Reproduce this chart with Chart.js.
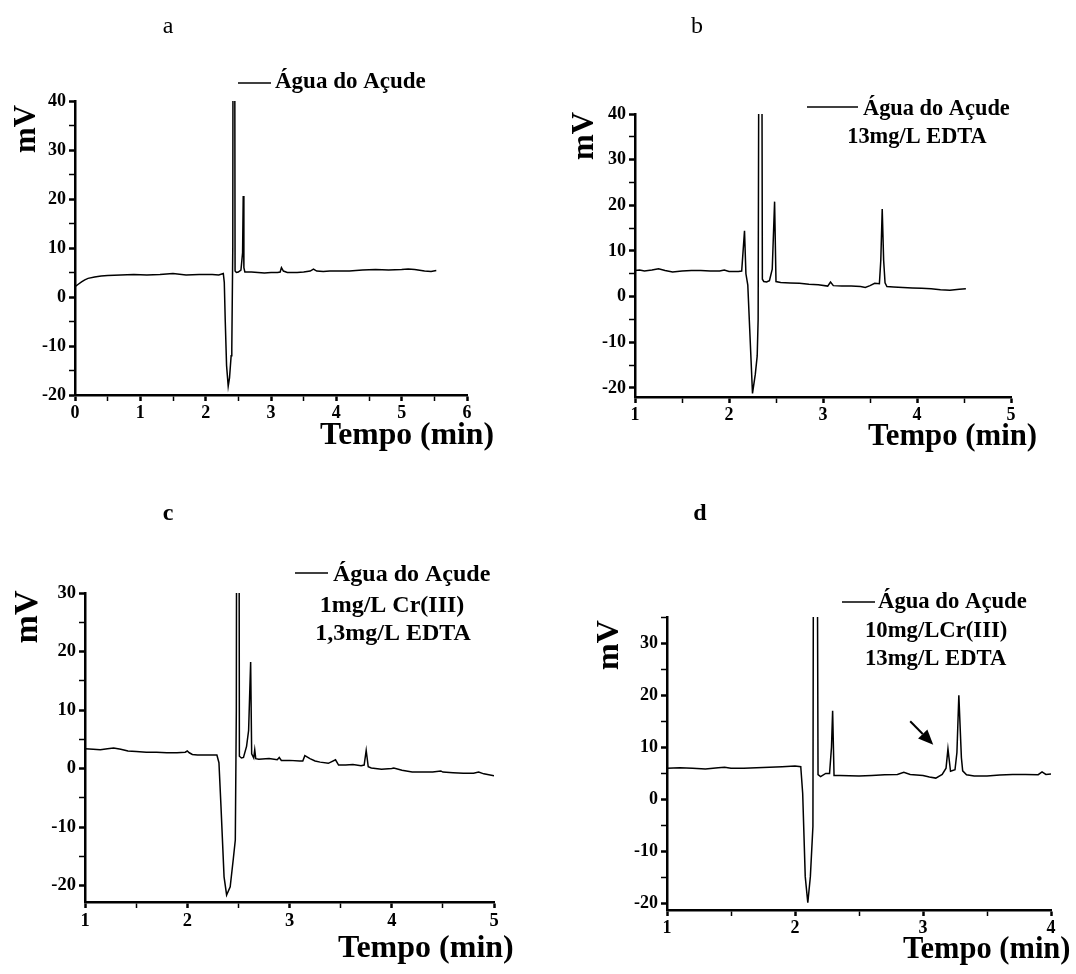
<!DOCTYPE html>
<html><head><meta charset="utf-8">
<script src="https://cdn.jsdelivr.net/npm/chart.js@4"></script>
<style>
html,body{margin:0;padding:0;background:#fff;}
#wrap{position:relative;width:1076px;height:974px;overflow:hidden;}
canvas{position:absolute;}
</style></head><body><div id="wrap">
<canvas id="ca" width="538" height="487" style="left:0;top:0"></canvas>
<canvas id="cb" width="538" height="487" style="left:538px;top:0"></canvas>
<canvas id="cc" width="538" height="487" style="left:0;top:487px"></canvas>
<canvas id="cd" width="538" height="487" style="left:538px;top:487px"></canvas>
</div>
<script>
// ---- data (time in min, signal in mV) ----
const timeA = [0.00,0.05,0.10,0.15,0.20,0.30,0.40,0.50,0.70,0.90,1.10,1.30,1.50,1.70,1.90,2.10,2.20,2.27,2.285,2.30,2.32,2.345,2.365,2.39,2.40,2.415,2.43,2.45,2.47,2.50,2.54,2.565,2.575,2.585,2.60,2.70,2.80,2.90,3.00,3.10,3.14,3.16,3.19,3.25,3.40,3.50,3.60,3.65,3.70,3.80,3.90,4.00,4.20,4.40,4.60,4.80,5.00,5.10,5.20,5.35,5.45,5.53];
const mvA   = [2.1,2.6,3.1,3.5,3.8,4.1,4.3,4.4,4.5,4.6,4.5,4.6,4.8,4.5,4.6,4.6,4.5,4.8,3.0,-5,-14,-18.2,-16.5,-12,-10.5,10,200,5.3,5.0,5.1,5.5,9,20.6,6,5.1,5.1,5.0,4.9,5.0,5.0,5.1,6.0,5.3,5.0,5.0,5.1,5.3,5.7,5.3,5.2,5.3,5.3,5.3,5.5,5.6,5.5,5.6,5.7,5.6,5.3,5.2,5.4];

const timeB = [1.00,1.05,1.10,1.18,1.25,1.32,1.40,1.50,1.60,1.70,1.80,1.90,1.95,2.00,2.10,2.135,2.165,2.18,2.20,2.22,2.25,2.28,2.30,2.31,2.335,2.355,2.37,2.40,2.43,2.46,2.485,2.50,2.55,2.65,2.75,2.85,2.95,3.05,3.08,3.11,3.20,3.30,3.40,3.45,3.50,3.55,3.60,3.615,3.63,3.645,3.66,3.68,3.75,3.85,3.95,4.05,4.15,4.25,4.35,4.45,4.52];
const mvB   = [5.7,5.8,5.6,5.8,6.1,5.7,5.4,5.6,5.7,5.7,5.6,5.6,5.8,5.5,5.5,5.6,14.4,5.0,2.5,-7,-21.2,-17,-13,-5,200,3.8,3.3,3.2,3.5,6.0,20.8,3.3,3.1,3.0,2.9,2.7,2.6,2.3,3.2,2.4,2.3,2.3,2.2,2.0,2.4,2.9,2.8,8,19.2,8,3,2.2,2.1,2.0,1.9,1.8,1.7,1.5,1.4,1.6,1.7];

const timeC = [1.00,1.08,1.15,1.22,1.28,1.35,1.42,1.50,1.60,1.70,1.80,1.90,1.98,2.00,2.02,2.05,2.10,2.20,2.29,2.31,2.33,2.36,2.385,2.42,2.45,2.47,2.48,2.495,2.51,2.53,2.55,2.58,2.60,2.62,2.63,2.65,2.66,2.67,2.70,2.80,2.88,2.90,2.92,3.00,3.10,3.13,3.15,3.20,3.25,3.30,3.38,3.45,3.48,3.55,3.62,3.70,3.73,3.75,3.77,3.80,3.90,4.00,4.02,4.10,4.20,4.30,4.40,4.48,4.50,4.60,4.70,4.80,4.85,4.90,5.00];
const mvC   = [3.4,3.3,3.2,3.4,3.5,3.3,3.0,2.9,2.8,2.8,2.7,2.7,2.8,3.0,2.7,2.4,2.3,2.3,2.3,1.0,-6.5,-18.5,-21.6,-20.2,-15.5,-12.2,10,200,2.1,1.8,1.9,3.8,6.5,18.2,2.5,1.8,3.2,1.7,1.6,1.7,1.5,1.9,1.4,1.4,1.3,1.3,2.2,1.7,1.3,1.1,0.9,1.5,0.6,0.6,0.7,0.5,0.6,3.1,0.3,0.1,-0.1,0.0,0.1,-0.3,-0.6,-0.6,-0.6,-0.4,-0.6,-0.7,-0.8,-0.8,-0.6,-0.9,-1.25];

const timeD = [1.00,1.10,1.20,1.30,1.40,1.45,1.50,1.60,1.70,1.80,1.90,2.00,2.045,2.06,2.08,2.10,2.12,2.14,2.155,2.18,2.20,2.24,2.27,2.285,2.294,2.305,2.35,2.50,2.60,2.70,2.80,2.85,2.90,3.00,3.05,3.10,3.15,3.18,3.195,3.215,3.25,3.265,3.28,3.30,3.31,3.34,3.40,3.50,3.60,3.70,3.80,3.90,3.93,3.96,4.00];
const mvD   = [6.0,6.1,6.0,5.85,6.1,6.2,6.0,6.0,6.1,6.2,6.3,6.4,6.3,1.2,-14.8,-19.8,-14.8,-5.2,200,4.75,4.4,5.0,5.0,10,17,4.6,4.6,4.5,4.6,4.75,4.8,5.2,4.8,4.6,4.3,4.1,4.8,6,9.7,5.4,5.7,9,20,8,5.5,4.75,4.5,4.5,4.7,4.8,4.8,4.75,5.3,4.8,4.9];

// axis ranges
const xRangeA = [0, 6], yRangeA = [-20, 40];
const xRangeB = [1, 5], yRangeB = [-22, 40];
const xRangeC = [1, 5], yRangeC = [-22.8, 30];
const xRangeD = [1, 4], yRangeD = [-21.2, 35];

// texts
const panelLetters = ['a', 'b', 'c', 'd'];
const xTitle = 'Tempo (min)';
const yTitle = 'mV';
const legendA = ['Água do Açude'];
const legendB = ['Água do Açude', '13mg/L EDTA'];
const legendC = ['Água do Açude', '1mg/L Cr(III)', '1,3mg/L EDTA'];
const legendD = ['Água do Açude', '10mg/LCr(III)', '13mg/L EDTA'];
// arrow annotation in panel d (data coordinates: start x,y -> end x,y)
const arrowD = [2.90, 15.0, 3.08, 10.5];

// ---- layout (page pixels) ----
const FONT = "'Liberation Serif','Times New Roman',serif";
const panels = [
  {id:'ca', ox:0, oy:0, area:{l:75,r:467,t:101,b:395}, xr:xRangeA, yr:yRangeA, t:timeA, v:mvA,
   fs:{tick:18, leg:23, xt:31.7, yt:31},
   letter:{txt:panelLetters[0], x:168, y:33, bold:false},
   yt:{x:27, y:129}, xt:{x:320, y:444},
   leg:{lines:legendA, lx0:238, lx1:271, ly:83, pos:[[275,88,'left']]} },
  {id:'cb', ox:538, oy:0, area:{l:635,r:1011,t:114,b:397}, xr:xRangeB, yr:yRangeB, t:timeB, v:mvB,
   fs:{tick:18, leg:22.4, xt:30.8, yt:31},
   letter:{txt:panelLetters[1], x:697, y:33, bold:false},
   yt:{x:585, y:136}, xt:{x:868, y:445},
   leg:{lines:legendB, lx0:807, lx1:858, ly:107, pos:[[863,115,'left'],[917,143,'center']]} },
  {id:'cc', ox:0, oy:487, area:{l:85,r:494,t:593,b:902}, xr:xRangeC, yr:yRangeC, t:timeC, v:mvC,
   fs:{tick:18.5, leg:24, xt:32, yt:34},
   letter:{txt:panelLetters[2], x:168, y:520, bold:true},
   yt:{x:28, y:617}, xt:{x:338, y:957},
   leg:{lines:legendC, lx0:295, lx1:328, ly:573, pos:[[333,581,'left'],[392,612,'center'],[393,640,'center']]} },
  {id:'cd', ox:538, oy:487, area:{l:667,r:1051,t:617,b:910}, xr:xRangeD, yr:yRangeD, t:timeD, v:mvD,
   fs:{tick:18, leg:22.7, xt:30.5, yt:32},
   letter:{txt:panelLetters[3], x:700, y:520, bold:true},
   yt:{x:610, y:645}, xt:{x:903, y:958},
   leg:{lines:legendD, lx0:842, lx1:875, ly:602, pos:[[878,608,'left'],[865,637,'left'],[865,665,'left']]},
   arrow: arrowD }
];
const W = 538, H = 487;

const annotPlugin = {
  id: 'annot',
  afterDraw(chart, args, o) {
    const p = o.panel; if (!p) return;
    const ctx = chart.ctx;
    ctx.save();
    ctx.fillStyle = '#000'; ctx.strokeStyle = '#000';
    // panel letter
    ctx.font = (p.letter.bold ? 'bold ' : '') + '24px ' + FONT;
    ctx.textAlign = 'center'; ctx.textBaseline = 'alphabetic';
    ctx.fillText(p.letter.txt, p.letter.x - p.ox, p.letter.y - p.oy);
    // x title
    ctx.font = 'bold ' + p.fs.xt + 'px ' + FONT;
    ctx.textAlign = 'left';
    ctx.fillText(xTitle, p.xt.x - p.ox, p.xt.y - p.oy);
    // y title
    ctx.save();
    ctx.translate(p.yt.x - p.ox, p.yt.y - p.oy);
    ctx.rotate(-Math.PI / 2);
    ctx.font = 'bold ' + p.fs.yt + 'px ' + FONT;
    ctx.textAlign = 'center'; ctx.textBaseline = 'middle';
    ctx.fillText(yTitle, 0, 0);
    ctx.restore();
    // legend
    ctx.lineWidth = 1.5;
    ctx.beginPath();
    ctx.moveTo(p.leg.lx0 - p.ox, p.leg.ly - p.oy);
    ctx.lineTo(p.leg.lx1 - p.ox, p.leg.ly - p.oy);
    ctx.stroke();
    ctx.font = 'bold ' + p.fs.leg + 'px ' + FONT;
    p.leg.lines.forEach((s, i) => {
      const q = p.leg.pos[i];
      ctx.textAlign = q[2];
      ctx.fillText(s, q[0] - p.ox, q[1] - p.oy);
    });
    // arrow
    if (p.arrow) {
      const xs = chart.scales.x, ys = chart.scales.y;
      const x0 = xs.getPixelForValue(p.arrow[0]), y0 = ys.getPixelForValue(p.arrow[1]);
      const x1 = xs.getPixelForValue(p.arrow[2]), y1 = ys.getPixelForValue(p.arrow[3]);
      const ang = Math.atan2(y1 - y0, x1 - x0);
      const hl = 15, hw = 6.5;
      const bx = x1 - hl * Math.cos(ang), by = y1 - hl * Math.sin(ang);
      ctx.lineWidth = 2;
      ctx.beginPath(); ctx.moveTo(x0, y0); ctx.lineTo(bx, by); ctx.stroke();
      ctx.beginPath();
      ctx.moveTo(x1, y1);
      ctx.lineTo(bx + hw * Math.sin(ang), by - hw * Math.cos(ang));
      ctx.lineTo(bx - hw * Math.sin(ang), by + hw * Math.cos(ang));
      ctx.closePath(); ctx.fill();
    }
    ctx.restore();
  }
};

function isInt(v) { return Math.abs(v - Math.round(v)) < 1e-9; }
function isMult(v, m) { return Math.abs(v / m - Math.round(v / m)) < 1e-9; }

panels.forEach(p => {
  const pts = p.t.map((x, i) => ({x: x, y: p.v[i]}));
  const tickFont = {family: FONT, weight: 'bold', size: p.fs.tick};
  const yWidth = p.area.l - p.ox;
  const xHeight = p.oy + H - p.area.b;
  new Chart(document.getElementById(p.id), {
    type: 'scatter',
    data: { datasets: [{ label: legendA[0], data: pts, showLine: true, borderColor: '#000', borderWidth: 1.5, pointRadius: 0, tension: 0, fill: false }] },
    options: {
      responsive: false, animation: false, events: [],
      layout: { padding: { left: 0, bottom: 0, top: p.area.t - p.oy, right: p.ox + W - p.area.r } },
      plugins: { legend: {display: false}, tooltip: {enabled: false}, title: {display: false}, annot: {panel: p} },
      scales: {
        x: {
          type: 'linear', min: p.xr[0], max: p.xr[1],
          border: {display: true, color: '#000', width: 2.5},
          grid: {display: true, drawOnChartArea: false, drawTicks: true, tickLength: 6, tickColor: '#000',
                 tickWidth: c => (c.tick && isInt(c.tick.value)) ? 2.5 : 1.5},
          ticks: {stepSize: 0.5, autoSkip: false, maxRotation: 0, includeBounds: false, padding: 2, color: '#000', font: tickFont,
                  callback: v => isInt(v) ? String(Math.round(v)) : ''},
          afterFit: s => { s.height = xHeight; }
        },
        y: {
          type: 'linear', min: p.yr[0], max: p.yr[1],
          border: {display: true, color: '#000', width: 2.5},
          grid: {display: true, drawOnChartArea: false, drawTicks: true, tickLength: 6, tickColor: '#000',
                 tickWidth: c => (c.tick && isMult(c.tick.value, 10)) ? 2.5 : 1.5},
          ticks: {stepSize: 5, autoSkip: false, includeBounds: false, padding: 3, color: '#000', font: tickFont,
                  callback: v => isMult(v, 10) ? String(Math.round(v)) : ''},
          afterFit: s => { s.width = yWidth; }
        }
      }
    },
    plugins: [annotPlugin]
  });
});
</script>
</body></html>
